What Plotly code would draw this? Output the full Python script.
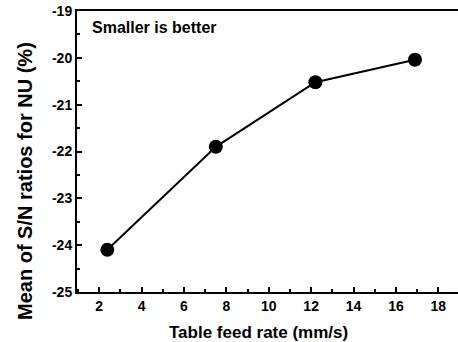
import plotly.graph_objects as go

feed_rate = [2.38, 7.5, 12.2, 16.9]
sn_mean = [-24.10, -21.90, -20.52, -20.04]
x_ticks = [2, 4, 6, 8, 10, 12, 14, 16, 18]
y_ticks = [-25, -24, -23, -22, -21, -20, -19]

FONT = "Liberation Sans, Arial, sans-serif"
W, H = 458, 342
ML, MR, MT, MB = 77, 0, 11, 50
PW, PH = W - ML - MR, H - MT - MB

def px_x(p):
    return (p - ML) / PW

def px_y(p):
    return (H - MB - p) / PH

fig = go.Figure()
fig.add_trace(go.Scatter(
    x=feed_rate, y=sn_mean, mode="lines+markers",
    line=dict(color="black", width=2),
    marker=dict(color="black", size=14),
    showlegend=False,
))

fig.update_layout(
    width=W, height=H,
    margin=dict(l=ML, r=MR, t=MT, b=MB),
    paper_bgcolor="white", plot_bgcolor="white",
    font=dict(family=FONT, color="black"),
    annotations=[
        dict(text="<b>Smaller is better</b>", xref="paper", yref="paper",
             x=0.035, y=0.94, xanchor="left", yanchor="middle",
             showarrow=False, font=dict(size=16, family=FONT, color="black")),
        dict(text="<b>Table feed rate (mm/s)</b>", xref="paper", yref="paper",
             x=px_x(258), y=px_y(332), xanchor="center", yanchor="middle",
             showarrow=False, font=dict(size=17, family=FONT, color="black")),
        dict(text="<b>Mean of S/N ratios for NU (%)</b>", xref="paper", yref="paper",
             x=px_x(25), y=px_y(181), xanchor="center", yanchor="middle", textangle=-90,
             showarrow=False, font=dict(size=20, family=FONT, color="black")),
    ],
)
fig.update_xaxes(
    range=[0.95, 18.93], tickvals=x_ticks, ticktext=[f"<b>{v}</b>" for v in x_ticks],
    ticks="inside", ticklen=5, tickwidth=1.5, tickcolor="black",
    minor=dict(dtick=1, ticks="inside", ticklen=3, tickwidth=1.5, tickcolor="black", showgrid=False),
    showline=True, linecolor="black", linewidth=2, mirror=True,
    showgrid=False, zeroline=False,
    tickfont=dict(size=14, family=FONT, color="black"),
)
fig.update_yaxes(
    range=[-25, -19], tickvals=y_ticks, ticktext=[f"<b>{v}</b>" for v in y_ticks],
    ticks="inside", ticklen=5, tickwidth=1.5, tickcolor="black",
    minor=dict(dtick=0.5, ticks="inside", ticklen=3, tickwidth=1.5, tickcolor="black", showgrid=False),
    showline=True, linecolor="black", linewidth=2, mirror=False,
    showgrid=False, zeroline=False,
    tickfont=dict(size=14, family=FONT, color="black"),
)

fig.write_html("out.html")
